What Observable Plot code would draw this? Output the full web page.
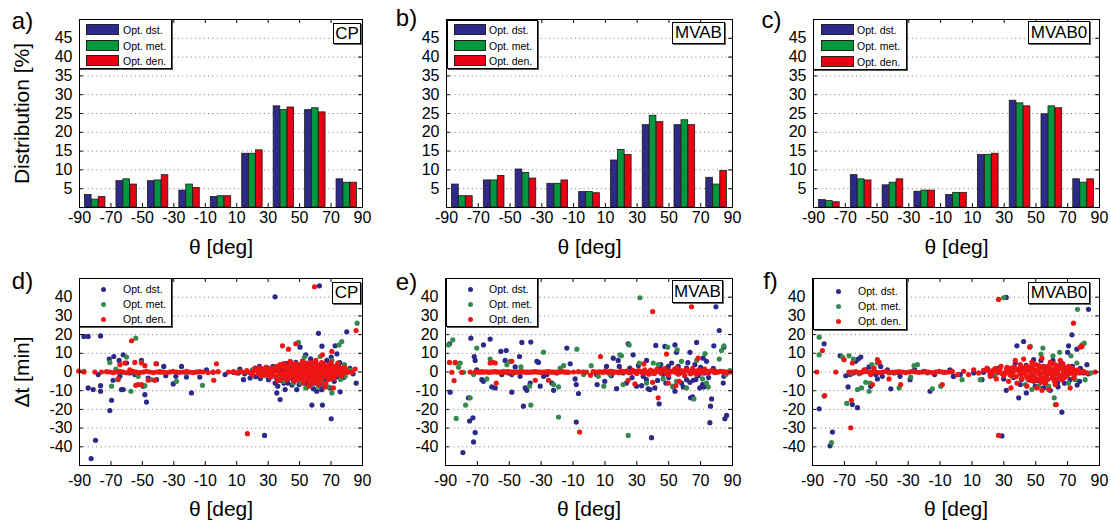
<!DOCTYPE html>
<html><head><meta charset="utf-8">
<script src="https://cdn.jsdelivr.net/npm/d3@7"></script>
<script src="https://cdn.jsdelivr.net/npm/@observablehq/plot@0.6"></script>
<style>
body{margin:0;background:#fff;font-family:"Liberation Sans",Arial,Helvetica,sans-serif;}
#root{position:relative;width:1111px;height:521px;overflow:hidden;background:#fff;}
.lg{position:absolute;background:#fff;border:1px solid #000;box-shadow:1px 1px 0 #555;box-sizing:border-box;}
.lg span{position:absolute;font-size:10.5px;line-height:12px;color:#000;white-space:nowrap;}
.sw{position:absolute;box-sizing:border-box;border:1px solid #222;}
.dt{position:absolute;width:5px;height:5px;border-radius:50%;}
.lb{position:absolute;background:#fff;border:1px solid #000;box-shadow:1px 1px 0 #666;box-sizing:border-box;font-size:17px;text-align:center;color:#000;}
</style></head><body><div id="root"></div>
<script>
// ---------- data ----------
const seriesNames = ["Opt. dst.", "Opt. met.", "Opt. den."];
const barColors = ["#2d2a8a", "#00973f", "#e60012"];
const dotColors = ["#2b2a88", "#358a50", "#ee1515"];
const binCenters = [-80, -60, -40, -20, 0, 20, 40, 60, 80];
const xTicks = [-90, -70, -50, -30, -10, 10, 30, 50, 70, 90];
const distTicks = [5, 10, 15, 20, 25, 30, 35, 40, 45];
const dtTicks = [-40, -30, -20, -10, 0, 10, 20, 30, 40];
const panelLetters = ["a)", "b)", "c)", "d)", "e)", "f)"];
const methodLabels = ["CP", "MVAB", "MVAB0"];

// bar heights [%] per 20-deg bin
const cpDst = [3.3, 7.0, 7.0, 4.5, 2.8, 14.3, 26.9, 25.9, 7.5];
const cpMet = [2.1, 7.5, 7.2, 6.1, 3.0, 14.3, 25.9, 26.4, 6.6];
const cpDen = [2.8, 6.1, 8.6, 5.2, 3.0, 15.2, 26.6, 25.3, 6.6];
const mvabDst = [6.1, 7.2, 10.1, 6.3, 4.1, 12.5, 21.9, 21.9, 7.9];
const mvabMet = [3.0, 7.2, 9.2, 6.3, 4.1, 15.3, 24.4, 23.2, 6.1];
const mvabDen = [3.0, 8.4, 7.7, 7.2, 3.8, 14.0, 22.7, 21.9, 9.7];
const mvab0Dst = [2.0, 8.6, 5.9, 4.2, 3.3, 14.0, 28.4, 24.8, 7.5];
const mvab0Met = [1.7, 7.5, 6.6, 4.5, 3.9, 14.0, 27.7, 26.9, 6.6];
const mvab0Den = [1.4, 7.2, 7.5, 4.5, 3.9, 14.3, 26.9, 26.4, 7.5];

// scatter [theta deg, dt min]
const dDst = [[-87.2,19],[-84.5,19],[-76.6,19.3],[-84.5,-8.5],[-81.3,-9.4],[-76.6,-7.3],[-76.6,-10.3],[-69.6,-15.1],[-70.7,-20.6],[-79.8,-36.5],[-82.6,-46.3],[-71.1,6.9],[-68.2,8.3],[-64.8,6.2],[-62.2,9.2],[-63.3,-9.4],[-62.2,-9.4],[-50.6,6.2],[-48.4,-12.1],[-47.4,-16.1],[-49.5,-7.6],[-41,4.4],[-36.4,3],[-25.1,3],[-30.4,-6.4],[-18.8,-11.2],[-28.7,-2.3],[-9.2,1.2],[-5,-0.2],[-64.3,-2.3],[-58,-0.5],[-54.8,-1.4],[-46.3,-3.2],[-35.1,-2],[-22,-2.7],[-13.5,-2.7],[-41,-4.1],[-78.1,-1.4],[-68.6,-4.4],[-60.1,4.8],
[62.6,46.1],[34.4,40.2],[62,20.7],[80,21.5],[72.6,14],[64.2,13.8],[53.9,9.2],[47.6,5.1],[37.6,-14.7],[35.5,-11.2],[57.8,-17.7],[64.5,-17.7],[70.1,-25],[27.7,-33.9],[75.8,-10.6],[86,-5.9],[2.6,-1.4],[11.1,-0.5],[14.3,-4.1],[18.5,-3.2],[21.7,2.1],[26,1.6],[30.2,-4.1],[32.3,0.4],[34.4,-5.9],[36.1,-7.6],[38.7,3.9],[40.8,-2.7],[42.5,-5.9],[44.6,2.1],[46.1,-4.1],[48.2,-0.5],[49.7,-6.7],[51.4,3],[52.5,-3.2],[54.6,-8],[55.6,1.2],[57.3,-4.4],[58.8,-9],[59.9,4.8],[61.6,-2.3],[63.1,-7.6],[64.5,2.1],[65.8,-4.1],[67.3,6.2],[68.4,-0.5],[70.1,8],[71.5,-3.7],[73,1.2],[74.7,3],[76.8,-0.5],[79,0.7],[23.8,-1.4],[28.1,-0.2],[19.6,-0.5],[7.9,-0.2],[53.9,-5.9],[40.8,-9.4],[48.2,-9.4],[60.9,-10.3],[69.4,-8.5],[73.7,9.7],[50.3,13.3],
[12,1.5],[15,-1],[20,1],[22,-2.5],[24.5,3],[25,-3.5],[27,-1.5],[29,2.5],[31,-2],[33,3],[35,-3],[36.5,1.5],[37.5,-4.5],[39,1],[40,-6],[41.5,4.5],[43,-3.5],[44,5.5],[45.2,-7],[47,3],[47.5,-2.5],[49,4],[50.5,-4.5],[52,6],[53,-2],[55,3.5],[56,-5.5],[57,7],[58,-2],[59,2.5],[60,-6],[61,1],[62,-4],[63,4],[64,-9.5],[65,0.5],[66,-6],[67,2],[68,-3],[69,4.5],[70.5,-1],[72,-5],[74,-2.5],[75.5,5],[78,-3],[82,2],[84,-1]];
const dMet = [[-54.2,18.1],[-70.7,5.1],[-66.9,1.6],[-69.6,-7.6],[-60.1,8],[-57.3,-10.3],[-52.7,-2.3],[-50.6,5.1],[-48.4,-7.3],[-28.3,-5],[-11.8,-7.1],[-87.2,0.4],[-65.4,-4.1],[-38.9,-0.2],[-44.2,-4.1],[-15.6,0],[-21.9,-0.5],[-53.7,-0.5],[-62.2,-0.2],
[86.6,26.1],[49.3,15.8],[76.8,16.3],[75.1,14.5],[53.1,8],[63.1,8.3],[70.5,6.2],[78.5,3.9],[70.5,-11.2],[53.9,-8.5],[62,-7.6],[42.9,-0.5],[36.6,-2.3],[30.2,-1.4],[26,-0.5],[47.2,1.2],[55.6,-1.4],[66.2,1.2],[73.7,-0.5],[79,-2.3],[17.5,-0.2],[39.7,-5],[58.8,-4.1],[51,-5.9],
[20,1],[28,-2],[33,2],[38,-3],[44,4],[46,-6],[50,-2],[52,5],[57,-7],[60,3],[64,-5],[68,-8],[72,3],[76,-4],[82,1]];
const dDen = [[-90.5,0.5],[-87.2,0],[-80.2,0],[-76,0],[-72.8,0.2],[-70.7,0],[-68.6,-0.3],[-66.5,0],[-64.3,0.3],[-62.2,0],[-60.1,-0.4],[-58,0],[-55.9,0.3],[-53.7,0],[-51.6,-0.3],[-49.5,0],[-47.4,0.4],[-45.3,0],[-43.1,-0.3],[-41,0],[-38.9,0.2],[-36.8,0],[-34.7,-0.3],[-32.5,0],[-30.4,0.3],[-28.3,0],[-26.2,-0.2],[-24.1,0],[-21.9,0.3],[-19.8,0],[-17.7,-0.3],[-15.6,0],[-13.5,0.2],[-11.3,0],[-8.2,-0.3],[-5,0],[-1.8,0.2],
[-56.9,16.7],[-61.2,4.8],[-54.8,5.1],[-58,1.2],[-52.7,-6.7],[-54.2,-7.1],[-50.6,-6.7],[-46.3,-4.4],[-42.1,-4.4],[-41.4,4.4],[-48.4,3.4],[-64.3,3.9],[-65.4,-3.7],[-2.9,4.4],[-4.6,-4.4],[-50.6,4.8],
[59.5,45.6],[85.9,22.2],[39.1,14],[42.9,12.2],[47.6,15.1],[70.5,11],[64.5,9.2],[16.8,-33],[71.5,-8.5],
[4.8,0],[7.9,0.2],[10.1,-0.5],[12.2,0.4],[14.3,-0.2],[16.4,0.7],[18.5,-0.5],[20.7,0.4],[22.8,1.2],[23.8,-0.9],[26,0.2],[27.7,1.2],[29.1,-1.4],[30.6,0.7],[32.3,-0.5],[34,2.1],[34.9,-2.3],[36.6,0.4],[37.6,3.9],[38.3,-3.7],[39.7,-0.5],[40.8,2.1],[41.9,-4.1],[43.3,0.9],[44.6,-1.4],[45.5,3.9],[46.7,-5],[48.2,0.4],[49.3,-2.7],[50.3,3],[51.4,-0.5],[52.5,-5.9],[53.5,1.2],[54.6,4.8],[55.2,-2.3],[56.1,-7.6],[57.3,-0.2],[58.4,3],[59.5,-4.1],[60.3,6.2],[61.6,-0.5],[62.4,-6.7],[63.7,1.2],[64.5,3.9],[65.8,-2.3],[66.7,-5.9],[67.9,0.4],[69.4,2.7],[70.5,-3.2],[71.5,-0.5],[73,1.2],[74.3,4.8],[75.1,-1.4],[76.4,0.4],[77.9,-0.5],[79.4,1.2],[80.7,-0.2],[83.2,0],[85.3,1.6],
[20,-1.5],[21.5,1.8],[24.5,2.3],[25.5,-2],[27,-1.2],[28.5,2.5],[31.5,-2.8],[33,1.5],[35.5,3],[36,-4.5],[37,1.8],[38.9,-1.8],[40,4.5],[41,-2],[42.2,3.2],[43.8,-3],[44,5.5],[45,-0.8],[46,2],[47.2,-2],[47.8,4.5],[48.8,-4],[49.8,1.5],[50.8,-3.5],[51.8,5.5],[52,1.8],[53,-1.5],[53.8,-4],[54.2,2.8],[55.8,0.8],[56.5,3.5],[56.8,-3.5],[57.8,-6],[58,1.5],[59,-1.8],[59.8,2],[60.8,-3],[61,4],[62,1.5],[62.8,-2.5],[63.3,-4.5],[64,5],[65,-1],[65.5,2],[66.2,-8],[67,3],[67.5,-1.5],[68.5,-4],[69,1],[70,5],[70.8,1.5],[71.8,-2],[72.5,3],[73.5,-1.2],[75.8,2.2],[77,-2],[78.5,2.5],
[30,-0.3],[31,1.8],[33.5,-1],[35,0.8],[37.2,-0.8],[39,2.8],[40.3,-1],[42,0],[43,-1.8],[44.5,0.5],[46.3,-2.8],[47.5,1],[48.5,2.2],[49.5,-1],[50.8,0.8],[51.2,-2],[52.8,3.5],[53.3,-3],[54,-0.5],[55,1.5],[55.8,-4.8],[56.5,-1.2],[57.5,5],[58.3,-1],[59.3,0.5],[60,-5.5],[61.3,2.5],[61.8,-1.5],[63,0],[63.8,-3],[64.8,-0.2],[65.2,4.5],[66,-0.8],[66.8,1.5],[68,-2],[68.8,3.8],[69.8,-1],[71,2.5],[72,-3.5],[73,-0.2],[74,2.5]];

const eDst = [[-87.5,15.1],[-87.1,-10.8],[-74.1,18.1],[-72,8.3],[-71.4,6.2],[-75.6,-13.8],[-74.9,-26.2],[-72.8,-24.5],[-71.4,-32.4],[-72.4,-37.4],[-79.1,-43.1],[-66.2,14.5],[-62,17.6],[-55.3,11],[-51.9,11.5],[-52.6,6.2],[-61,-8],[-58.8,-8.5],[-67.2,-4.1],[-66.2,-5],[-46.3,2.7],[-43.6,8.3],[-42.1,15.8],[-48.4,-10.8],[-41.1,-18.3],[-40,-8.5],[-39,-9.8],[-36.5,16],[-32.7,5.7],[-31.7,5.1],[-30.6,-7.6],[-28.5,-2.3],[-26.4,-1.4],[-23.3,-5.9],[-22.2,-9.8],[-13.9,12.8],[-11.8,4.4],[-8.7,-3.7],[-8,-6.7],[-8,-26.8],[-6.6,-11.5],[-48.4,-1.4],[-54.7,-1.4],[-36.9,-5.9],[-20.2,-0.5],[-43.2,-2.3],[-70.4,1.2],[-50.5,-0.5],
[79.6,34.9],[81.7,22.2],[24.6,15.1],[41.9,14.2],[47.6,13.7],[53.9,14.5],[67.5,15.8],[78.3,14],[84.6,13.3],[27.7,9.2],[36.1,6.2],[54.9,10.5],[63.3,10.5],[71.6,7.4],[73.7,5.7],[15.2,7.4],[18.3,6.2],[11,3],[4.7,-1.4],[5.1,-6.7],[17.3,-8.9],[29.8,-7.6],[33,-7.3],[37.1,-9],[38.2,-9.4],[41.3,-8.5],[44,-17],[39.2,-35.1],[52.8,-8],[53.9,-10.3],[58,-5.9],[59.1,-8],[61.2,-4.1],[63.3,-5.5],[63.7,-13.8],[65,-13.3],[65.4,-4.4],[68.5,-2],[69.5,-8.5],[71.2,-6.7],[72.1,-8],[76.9,-14.4],[76.2,-18.3],[75.8,-27.1],[85.2,-25],[86.3,-23.2],[84.6,-2.3],[84.2,-5.9],[46.5,-1.4],[49.7,3],[51.8,4.8],[54.9,1.2],[21.4,-0.5],[25.6,2.1],[34,-2.3],[40.3,-0.5],[44.4,2.1],[48.2,-5.9],[57,-0.5],[61.2,2.1],[66.4,3.9],[72.7,-0.5],[9.9,-5],[23.5,-5.9],
[14,-2],[19,3],[27,-3],[31,3.5],[36,-4],[43,-4.5],[45,4],[50,-3],[56,3],[60,-2],[62,5],[67,-4],[70,2.5],[75,-3],[78,2]];
const eMet = [[-88.1,14.5],[-85.4,17.2],[-81.8,2.5],[-83.9,4.8],[-80.8,4.8],[-83.3,-24.8],[-77.4,-17.7],[-74.5,-13.8],[-70.4,12.8],[-72.4,-1.4],[-64.1,-3.7],[-62,6.9],[-51.5,3.9],[-49.4,5.7],[-37.3,-7.6],[-36.5,-17.7],[-28.5,10.6],[-19.1,-24.1],[-18.1,2.1],[-15.9,3.4],[-19.1,-8],[-22.2,-6.7],[-7.6,12.2],[-3.4,-1.4],[-2.4,-0.2],[-47.4,-0.5],[-53.6,0.4],[-42.7,2.7],[-78.7,-0.2],
[31.9,39.7],[25.2,14.5],[49.3,13.3],[55.3,11.9],[84.6,14],[83.1,11.5],[81.7,6.9],[72.7,9.8],[67.5,6.2],[58,5.7],[19.4,9.2],[20.4,8.7],[31.5,4.8],[40.3,4.8],[43.4,3.9],[1.4,3.4],[5.8,-2.3],[9.3,-7.6],[21.4,-6.7],[24.6,-33.9],[36.1,-5.9],[52.4,-7.6],[61.2,-8.5],[65.8,-14.4],[71.2,-3.7],[73.7,-5.9],[74.8,-8],[88.4,0.7],[85.9,-1.4],[13.1,-1.4],[29.8,-0.5],[46.5,-3.7],[54.9,-5],[48.6,0.4],[63.3,-0.5]];
const eDen = [[-87.5,5.1],[-83.9,5.1],[-84.6,-4.6],[-86,-0.2],[-79.8,-0.2],[-74.5,0],
[-71.4,0],[-70.3,0.1],[-69.3,0],[-68.2,-0.1],[-67.2,0.2],[-66.1,0],[-65.1,0],[-64,0.1],[-63,-0.2],[-62,0],[-61,0],[-59.9,0.1],[-58.8,0.2],[-57.7,0],[-56.7,0],[-55.7,-0.1],[-54.7,-0.2],[-53.6,0],[-52.6,0],[-51.5,0.1],[-50.5,0.2],[-49.4,0],[-48.4,0],[-47.3,-0.1],[-46.3,-0.2],[-45.2,0],[-44.2,0],[-43.1,0.1],[-42.1,0.2],[-41,0],[-40,0],[-38.9,-0.1],[-37.9,-0.2],[-36.8,0],[-35.8,0],[-34.7,0.1],[-33.7,0.2],[-32.7,0],[-31.7,0],[-30.6,-0.1],[-29.6,-0.2],[-28.5,0],[-27.5,0],[-26.4,0.1],[-25.4,0.2],[-24.3,0],[-23.3,0],[-22.2,-0.1],[-21.2,-0.2],[-20.1,0],[-19.1,0],[-18,0.1],[-17,0.2],[-15.9,0],[-14.9,0],[-13.8,-0.1],[-12.8,-0.2],[-9.7,0],[-6.6,0.2],[-3.85,0],
[-60.3,5.1],[-58.8,4.8],[-48.4,5.7],[-58.2,-5.9],[-33.7,-4.4],[-25.4,-4.4],[-5.9,-32.1],[-62,4.8],
[64.3,34.9],[39.9,32.3],[7.2,8.3],[48.6,9.6],[34.4,4.3],[68.5,7.4],[43.4,-13.8],[56.6,-5],[49.7,-5.9],[39.9,-5.5],[24.6,-4.4],[28.8,-6.4],[54.5,-7.3],[0.96,-1.8],
[-1.55,0],[2.6,0.2],[5.8,0],[8.5,-0.2],[11,0],[13.5,0.3],[16,0],[18.5,-0.3],[21,0],[23.5,0.5],[26.1,-0.4],[28.6,0],[31.1,0.8],[33.6,-0.6],[36.1,0],[38.6,1],[41.1,-0.8],[43.6,0.3],[46.1,1.2],[48.6,-1],[51.1,0.5],[53.7,1.5],[56.2,-1.2],[58.7,0.4],[61.2,1.3],[63.7,-1],[66.2,0.3],[68.7,1],[71.2,-0.6],[73.7,0],[76.2,0.5],[78.7,-0.3],[81.3,0],[83.8,0.2],[86.3,0],[88.8,0],
[10,0.5],[15,-0.5],[20,0.6],[25,-0.3],[27.5,0.9],[30,-0.8],[32.5,0.3],[35,1.2],[37.5,-1.2],[40,0.4],[42.5,1.4],[45,-0.5],[47.5,1.8],[50,-1.5],[52.5,0.2],[55,2.2],[57.5,0.8],[60,-1.8],[62.5,0.5],[65,2],[67.5,-1.3],[70,0.6],[72.5,1.5],[75,-0.5],[77.5,0.8],[80,-0.2],[82.5,0.4],[85,-0.3],
[4.2,0],[7,0.1],[9.7,0],[12.2,-0.1],[14.7,0.2],[17.2,0],[19.7,-0.2],[22.2,0.2],[24.8,0],[29.8,0.3],[34.8,-0.3],[39.8,-0.5],[44.8,0.6],[49.8,0.3],[54.8,-0.5],[59.8,0.6],[64.8,-0.4],[69.8,-0.2],[74.8,0.3],[79.8,0.2],[84.8,0.1],[87.5,0]];

const fDst = [[-82.7,15.1],[-85.8,-19.7],[-77.5,-32.1],[-79,-39.5],[-72.7,8.7],[-69.1,-2],[-67.7,-8],[-65,-17.4],[-61.8,-19.1],[-62.9,5.7],[-61.4,6.9],[-59.7,8],[-60.1,-0.5],[-56.6,1.2],[-54.5,2.7],[-53.5,-7.6],[-50.3,-1.4],[-49.3,-3.7],[-47.2,3],[-46.2,-2.3],[-40.9,-9],[-43,1.2],[-36.3,-0.2],[-35.1,-2.3],[-28.8,-4.1],[-25.9,1.2],[-20.1,0.4],[-16.3,-10.3],[-13.4,-1.4],[-7.5,-0.2],[-3.8,1.2],[-1.7,-2.3],[-66.4,-1.4],[-64.3,-0.5],[-52.4,-0.2],[-38.8,-0.5],
[31.5,39.9],[83.1,33.5],[72.7,19.9],[42.4,16.3],[38.2,14],[70.6,14],[70,10.5],[75.8,12.2],[82.1,3.9],[28.8,-34.2],[39.3,-13.8],[44.1,-11.2],[31.5,-9.8],[66.4,-21.5],[-1.5,-2.3],[2.7,-1.4],[16.3,-4.1],[17.3,-0.2],[26.7,2.1],[29.9,-3.7],[34,-0.5],[37.2,4.8],[40.3,-6.7],[43.5,1.2],[45.5,-4.1],[48.7,6.6],[49.7,-7.6],[52.4,-0.9],[53.3,6.2],[54.9,-8.5],[57,-4.1],[59.1,-9.8],[60.8,6.2],[62.2,-0.5],[63.7,-5.9],[65,3],[67.5,-2.3],[69.6,1.2],[71.6,-4.1],[74.8,-0.5],[77.5,-5],[80,-0.5],[21.5,-1.4],[11.1,-0.5],
[20,1.5],[24,-2],[32,2],[36,-3],[41,-4],[44,3.5],[47,-1.5],[51,-4.5],[55,3],[56,-6],[58,1],[61,-3],[64,-8],[66,5],[68,-6],[70,-1],[73,3],[76,-7],[78,2],[83,-1]];
const fMet = [[-85.8,18.6],[-85.8,9.2],[-82.7,-12.9],[-78.1,-37.8],[-71.2,8],[-67.1,8.7],[-64.3,6.9],[-68.5,-16.8],[-61.8,-9.4],[-59.3,-8.5],[-56.6,-5.5],[-54.5,-10.3],[-52.8,3.9],[-53.9,-5.9],[-49.3,4.8],[-42,-0.5],[-35.7,-8.5],[-26.3,3.4],[-24.2,3.9],[-28.4,-2.7],[-14.8,-9],[-9.6,-7.6],[-66,-0.5],[-60.8,-0.9],[-37.8,-0.2],[-18,-0.5],
[29.9,39.7],[76.2,33.5],[80.4,15.4],[79,14.5],[46.6,13.7],[54.5,12.8],[53.3,9.6],[65,10.5],[60.8,8.7],[72.1,8.7],[75.8,4.8],[61.6,-13.8],[62.3,-17.4],[43.5,-6.7],[47.6,-9.4],[51.8,-7.6],[58.1,-7.6],[70.6,-5.9],[74.8,-4.1],[3.8,-4.1],[15.2,-4.1],[24.6,-1.4],[35.1,-2.3],[40.3,1.2],[50.8,0.4],[57,-0.5],[67.5,-0.5],[81,-4.1],[84.6,-0.5]];
const fDen = [[-87.3,0],[-83.8,11.5],[-82.3,-12.6],[-75.4,0],[-66,-29.8],[-65.6,-15.1],[-70.2,6.6],[-65,4.8],[-52.4,-6.7],[-49.3,6.6],[-48.2,5.1],[-53.5,-1.4],[-34.7,-6.7],[-8.6,-6.7],[-42,-3.7],[-57.6,1.2],[-51.4,2.1],
[-67.1,0],[-65,0],[-62.9,0.2],[-60.8,-0.3],[-58.7,0],[-56.6,0.3],[-54.5,0],[-52.4,0.2],[-50.3,0],[-48.2,-0.3],[-46.2,0],[-44.1,0.3],[-42,0],[-39.9,-0.2],[-37.8,0],[-35.7,0.2],[-33.6,0],[-31.5,-0.3],[-29.4,0],[-27.3,0.3],[-25.3,0],[-23.2,-0.2],[-21.1,0],[-19,0.2],[-16.9,0],[-14.8,-0.3],[-12.7,0],[-10.6,0.3],[-8.6,0],[-6.5,-0.2],[-4.4,0],[-2.3,0.3],
[26.7,38.8],[73.7,26.1],[79,13.7],[77.9,13.3],[46.2,13.3],[26.7,-33.9],[62.9,-17.4],[71.6,-8.5],[34.5,-8.5],[53.9,-9.8],[87.3,0],[1,-1.4],
[4.8,0.4],[7.9,-1.4],[11.1,1.2],[14.2,-0.5],[17.3,0.9],[19.4,2.1],[21.5,-2.3],[23.6,1.2],[25.3,-3.7],[26.7,-0.2],[28.2,3],[29.9,-2],[31.5,0.9],[33,-5],[34.5,2.1],[35.7,-0.5],[37.2,6.2],[38.2,-5.9],[39.3,0.4],[40.3,3.9],[41.4,-3.7],[42.4,6.9],[43.5,-0.5],[44.5,-7.6],[45.5,2.7],[46.6,-2.3],[47.6,5.1],[48.7,-5],[49.7,0.4],[50.8,-8.5],[51.8,3.4],[52.8,-2.7],[53.9,7.4],[54.9,-0.5],[56,-5.9],[57,2.1],[58.1,-9.4],[59.1,5.1],[60.2,-3.2],[61.2,0.4],[62.2,-6.7],[63.3,3.4],[64.3,-1.4],[65.4,6.2],[66.4,-4.1],[67.5,1.2],[69.1,-2.3],[70.6,3],[72.1,-0.5],[73.7,-3.2],[75.4,0.9],[77.5,-0.5],[80,0.4],[82.1,-0.5],
[20.5,0.5],[22.5,-0.8],[24.5,1.8],[27.5,1.5],[30.5,-1],[32,2.5],[33.8,-1.5],[36.5,2.8],[37.8,-2.5],[40.8,-1.5],[42,1.8],[44,3],[45,-3.5],[46,0.8],[47,-4.5],[48.2,1.8],[49.2,-2.2],[50.2,4],[51.2,-4],[52.2,1.5],[53.2,-5.5],[54.4,3],[55.5,-3],[56.5,0.5],[57.5,-4],[58.6,2.5],[59.6,-1],[60.7,4.5],[61.7,-5],[62.7,1.8],[63.8,-3.5],[64.8,2.5],[65.9,-1.8],[67,4.5],[68,-3],[68.5,0],[70,-1.5],[71.2,1.8],[73,2],[74.5,-1.5],[76.5,1.2],[78.8,0],
[22,0],[25,0.5],[28.8,-0.8],[31,-0.3],[32.8,1],[35,-1.8],[36,0.5],[38.8,1.5],[40,-0.5],[41,2.5],[43,0.8],[44,-2],[46.2,2],[47.2,-1],[48.5,3.5],[49.8,-3.5],[50.5,1],[52,-0.5],[53.5,2.5],[54.5,-4],[55.5,0.8],[56.8,-2],[57.8,3],[58.8,-0.5],[60,1.5],[61,-2],[62,4],[63,-0.8],[64,1],[65,-3],[66,2],[67.2,-1],[68.2,2.5],[69.5,0.5],[71,-0.8],[72.5,1],[74,-0.5]];

// ---------- drawing ----------
const FONT = '"Liberation Sans", Arial, Helvetica, sans-serif';
const root = document.getElementById("root");
const barOffsets = [-4.4, 0, 4.4];
const barHalf = 2.1;

function basePlot(cfg, marks) {
  const [y0, y1] = cfg.yDomain;
  const tkY = (y1 - y0) * 0.021;
  return Plot.plot({
    width: cfg.width, height: cfg.height,
    marginLeft: cfg.ml, marginRight: cfg.mr, marginTop: cfg.mt, marginBottom: cfg.mb,
    style: {fontFamily: FONT, fontSize: "16px", color: "#000", background: "transparent", overflow: "visible"},
    x: {domain: [-90, 90]},
    y: {domain: cfg.yDomain},
    marks: [
      Plot.ruleY(cfg.yTicks, {stroke: "#777", strokeDasharray: "1,3.3", strokeWidth: 1}),
      ...marks,
      Plot.ruleX(xTicks, {x: d => d, y1: y0, y2: y0 + tkY, stroke: "#000"}),
      Plot.ruleX(xTicks, {x: d => d, y1: y1 - tkY, y2: y1, stroke: "#000"}),
      Plot.ruleY(cfg.yTicks, {y: d => d, x1: -90, x2: -87.6, stroke: "#000"}),
      Plot.ruleY(cfg.yTicks, {y: d => d, x1: 87.6, x2: 90, stroke: "#000"}),
      Plot.frame({stroke: "#000", strokeWidth: 1}),
      Plot.axisX({ticks: xTicks, tickSize: 0, tickPadding: cfg.tickPad, tickFormat: d => String(d), label: null, fontSize: 16}),
      Plot.axisY({ticks: cfg.yTicks, tickSize: 0, tickPadding: 7, tickFormat: d => String(d), label: null, fontSize: 16}),
      Plot.text(["θ [deg]"], {text: d => d, frameAnchor: "bottom", dy: cfg.xLabelDy, fontSize: 21, lineAnchor: "middle"}),
      Plot.text([cfg.letter], {text: d => d, frameAnchor: "top-left", dx: cfg.letterDx, dy: cfg.letterDy, fontSize: 24, textAnchor: "middle", lineAnchor: "middle"}),
      cfg.ylabel ? Plot.text([cfg.ylabel], {text: d => d, frameAnchor: "left", dx: -57, rotate: -90, fontSize: 21, textAnchor: "middle", lineAnchor: "middle"}) : null
    ]
  });
}

function place(left, top, width, node) {
  const d = document.createElement("div");
  d.style.cssText = `position:absolute;left:${left}px;top:${top}px;width:${width}px;`;
  d.appendChild(node);
  root.appendChild(d);
}

function labelBox(x, y, w, h, text) {
  const d = document.createElement("div");
  d.className = "lb";
  d.style.cssText += `left:${x}px;top:${y}px;width:${w}px;height:${h}px;line-height:${h - 2}px;`;
  d.textContent = text;
  root.appendChild(d);
}

function barLegend(x, y, w, h, swLeft, swW, txtLeft, rowTops) {
  const d = document.createElement("div");
  d.className = "lg";
  d.style.cssText += `left:${x}px;top:${y}px;width:${w}px;height:${h}px;`;
  seriesNames.forEach((n, i) => {
    const s = document.createElement("div");
    s.className = "sw";
    s.style.cssText += `left:${swLeft}px;top:${rowTops[i]}px;width:${swW}px;height:11px;background:${barColors[i]};`;
    d.appendChild(s);
    const t = document.createElement("span");
    t.style.cssText = `left:${txtLeft}px;top:${rowTops[i] - 0.5}px;`;
    t.textContent = n;
    d.appendChild(t);
  });
  root.appendChild(d);
}

function dotLegend(x, y, w, h, dotX, txtLeft, rowCenters) {
  const d = document.createElement("div");
  d.className = "lg";
  d.style.cssText += `left:${x}px;top:${y}px;width:${w}px;height:${h}px;`;
  seriesNames.forEach((n, i) => {
    const s = document.createElement("div");
    s.className = "dt";
    s.style.cssText += `left:${dotX - 2.5}px;top:${rowCenters[i] - 2.5}px;background:${dotColors[i]};`;
    d.appendChild(s);
    const t = document.createElement("span");
    t.style.cssText = `left:${txtLeft}px;top:${rowCenters[i] - 6.5}px;`;
    t.textContent = n;
    d.appendChild(t);
  });
  root.appendChild(d);
}

function barMarks(dst, met, den) {
  return [dst, met, den].map((vals, s) =>
    Plot.rectY(vals.map((v, i) => ({bin: binCenters[i], v})), {
      x1: d => d.bin + barOffsets[s] - barHalf,
      x2: d => d.bin + barOffsets[s] + barHalf,
      y1: 0, y2: "v",
      fill: barColors[s], stroke: "#1b1b1b", strokeWidth: 0.8
    }));
}

function dotMarks(dst, met, den) {
  return [dst, met, den].map((pts, s) =>
    Plot.dot(pts, {x: d => d[0], y: d => d[1], r: 2.6, fill: dotColors[s], stroke: "none"}));
}

const topBase = {height: 260, mt: 19, mb: 53, yDomain: [0, 50], yTicks: distTicks, tickPad: 4, xLabelDy: 40};
const botBase = {height: 261, mt: 18, mb: 56, yDomain: [-50, 50], yTicks: dtTicks, tickPad: 9, xLabelDy: 44};

place(0, 0, 370, basePlot({...topBase, width: 370, ml: 79, mr: 8, letter: panelLetters[0], letterDx: -57, letterDy: 2, ylabel: "Distribution [%]"}, barMarks(cpDst, cpMet, cpDen)));
place(370, 0, 370, basePlot({...topBase, width: 370, ml: 76, mr: 8, letter: panelLetters[1], letterDx: -40, letterDy: -1.5}, barMarks(mvabDst, mvabMet, mvabDen)));
place(740, 0, 371, basePlot({...topBase, width: 371, ml: 73, mr: 12, letter: panelLetters[2], letterDx: -42, letterDy: 1}, barMarks(mvab0Dst, mvab0Met, mvab0Den)));
place(0, 260, 370, basePlot({...botBase, width: 370, ml: 79, mr: 8, letter: panelLetters[3], letterDx: -57, letterDy: 3, ylabel: "Δt [min]"}, dotMarks(dDst, dMet, dDen)));
place(370, 260, 370, basePlot({...botBase, width: 370, ml: 75, mr: 8, letter: panelLetters[4], letterDx: -39, letterDy: 4}, dotMarks(eDst, eMet, eDen)));
place(740, 260, 371, basePlot({...botBase, width: 371, ml: 72, mr: 12, letter: panelLetters[5], letterDx: -42, letterDy: 3}, dotMarks(fDst, fMet, fDen)));

barLegend(79, 19, 93, 50, 6, 33, 43, [4, 20, 35]);
barLegend(447, 20, 91, 49, 6, 32, 41, [3, 19, 34]);
barLegend(813, 19, 94, 51, 7, 33, 43, [4, 20, 36]);
dotLegend(79, 278, 93, 49, 23, 43, [10, 25, 40]);
dotLegend(446, 278, 92, 49, 23, 42, [10, 25, 40]);
dotLegend(813, 278, 94, 52, 24, 44, [12, 27, 42]);

labelBox(333, 22.7, 28, 21, methodLabels[0]);
labelBox(672, 21.7, 53, 22, methodLabels[1]);
labelBox(1028, 20.7, 62, 23, methodLabels[2]);
labelBox(332, 281.7, 29, 22, methodLabels[0]);
labelBox(672, 280, 51, 23, methodLabels[1]);
labelBox(1028, 281.7, 62, 22, methodLabels[2]);
</script></body></html>
